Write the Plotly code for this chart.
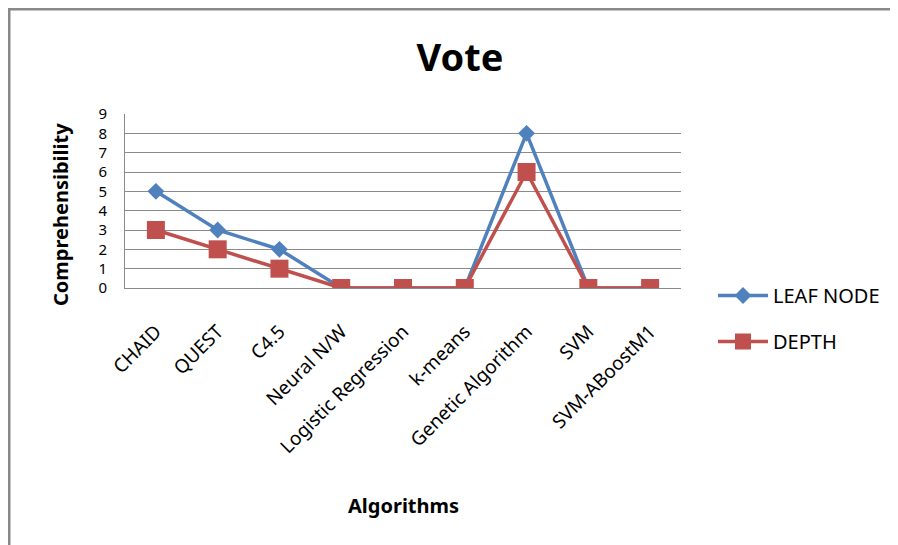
import plotly.graph_objects as go

categories = ["CHAID", "QUEST", "C4.5", "Neural N/W", "Logistic Regression",
              "k-means", "Genetic Algorithm", "SVM", "SVM-ABoostM1"]
leaf_node = [5, 3, 2, 0, 0, 0, 8, 0, 0]
depth = [3, 2, 1, 0, 0, 0, 6, 0, 0]
y_ticks = [0, 1, 2, 3, 4, 5, 6, 7, 8, 9]

# the page body adds an 8px offset; work in screen pixels and subtract it
OFF = 8
W, H = 898 - OFF, 545 - OFF
L, R, T, B = 125 - OFF, 681 - OFF, 114 - OFF, 288 - OFF

def px_x(x):
    return (x - OFF - L) / (R - L)

def px_y(y):
    return (B - (y - OFF)) / (B - T)

FONT = "Noto Sans"

fig = go.Figure()
fig.add_trace(go.Scatter(
    x=categories, y=leaf_node, name="LEAF NODE", mode="lines+markers",
    line=dict(color="#4F81BD", width=3.5),
    marker=dict(symbol="diamond", size=13, color="#4F81BD"),
    legendgroup="a"))
fig.add_trace(go.Scatter(
    x=categories, y=depth, name="DEPTH", mode="lines+markers",
    line=dict(color="#C0504D", width=3.5),
    marker=dict(symbol="square", size=18, color="#C0504D"),
    legendgroup="b"))

fig.update_layout(
    width=W, height=H,
    margin=dict(l=L, r=W - R, t=T, b=H - B, autoexpand=False),
    paper_bgcolor="white", plot_bgcolor="white",
    font=dict(family=FONT, color="black"),
    title=dict(text="<b>Vote</b>", x=(460 - OFF) / W, xanchor="center",
               y=1 - (58 - OFF) / H, yanchor="middle",
               font=dict(size=38, family=FONT)),
    showlegend=True,
    legend=dict(x=px_x(713), xanchor="left", y=px_y(276), yanchor="top",
                font=dict(size=20, family=FONT), traceorder="grouped",
                tracegroupgap=17, itemwidth=50, bgcolor="rgba(0,0,0,0)"),
    xaxis=dict(range=[-0.5, 8.5], tickangle=-45, showgrid=False,
               showline=True, linecolor="#8a8a8a", linewidth=1,
               ticks="", ticklabelstandoff=24,
               tickfont=dict(size=19, family=FONT), automargin=False),
    yaxis=dict(range=[0, 9], tickvals=y_ticks, showgrid=True,
               gridcolor="#8a8a8a", gridwidth=1, zeroline=False,
               showline=True, linecolor="#8a8a8a", linewidth=1,
               ticks="", ticklabelstandoff=14,
               tickfont=dict(size=15, family=FONT), automargin=False),
    annotations=[
        dict(text="<b>Algorithms</b>", xref="paper", yref="paper",
             x=px_x(403), y=px_y(505), showarrow=False,
             xanchor="center", yanchor="middle", font=dict(size=20, family=FONT)),
        dict(text="<b>Comprehensibility</b>", xref="paper", yref="paper",
             x=px_x(60), y=px_y(215), showarrow=False, textangle=-90,
             xanchor="center", yanchor="middle", font=dict(size=20, family=FONT)),
    ],
)

# outer frame (top and left edges)
fig.add_shape(type="line", xref="paper", yref="paper",
              x0=px_x(8), x1=px_x(898), y0=px_y(9), y1=px_y(9),
              line=dict(color="#888888", width=3))
fig.add_shape(type="line", xref="paper", yref="paper",
              x0=px_x(9), x1=px_x(9), y0=px_y(8), y1=px_y(545),
              line=dict(color="#888888", width=3))

fig.write_html("out.html")
